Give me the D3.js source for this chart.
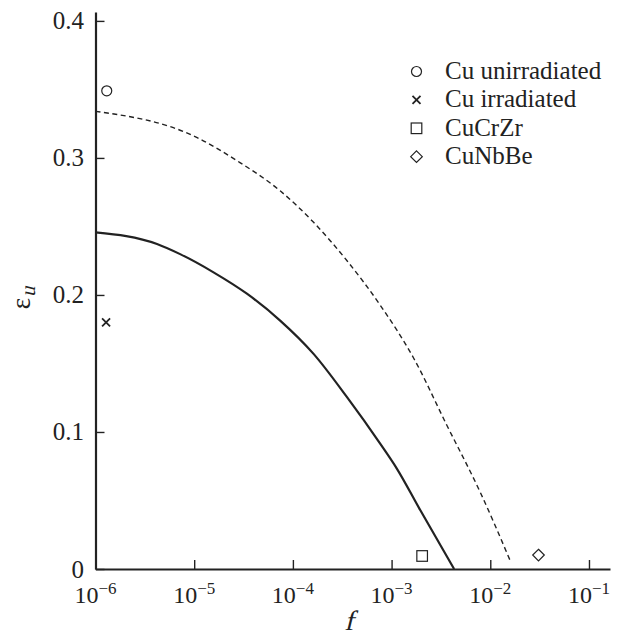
<!DOCTYPE html>
<html>
<head>
<meta charset="utf-8">
<script src="https://cdn.jsdelivr.net/npm/d3@7"></script>
<style>
  body { margin: 0; background: #fff; }
  svg { display: block; }
</style>
</head>
<body>
<svg id="chart" width="619" height="641"></svg>
<script>
// ---- data ----
const xTickExponents = [-6, -5, -4, -3, -2, -1];
const yTicks = [0, 0.1, 0.2, 0.3, 0.4];
const yTickLabels = ["0", "0.1", "0.2", "0.3", "0.4"];

// dashed curve (upper)
const dashedF = [1e-6, 1.06e-5, 2.71e-5, 7.43e-5, 1.62e-4, 3.52e-4, 7.66e-4, 1.67e-3, 3.63e-3, 7.9e-3, 1.58e-2];
const dashedE = [0.334, 0.315, 0.298, 0.276, 0.253, 0.2251, 0.1926, 0.154, 0.1049, 0.0561, 0.0066];

// solid curve (lower)
const solidF = [1e-6, 4.2e-6, 7.2e-6, 1.57e-5, 3.42e-5, 7.43e-5, 1.62e-4, 3.52e-4, 7.66e-4, 1.13e-3, 1.95e-3, 4.3e-3];
const solidE = [0.2457, 0.2372, 0.2298, 0.2165, 0.2009, 0.1813, 0.157, 0.1256, 0.0915, 0.0733, 0.043, 0.0];

// measured points
const pointNames = ["Cu unirradiated", "Cu irradiated", "CuCrZr", "CuNbBe"];
const pointSymbols = ["circle", "cross", "square", "diamond"];
const pointF = [1.3e-6, 1.28e-6, 2.04e-3, 3.08e-2];
const pointE = [0.349, 0.180, 0.0095, 0.0102];

// ---- layout ----
const FONT = "'Liberation Serif', 'Times New Roman', Tinos, serif";
const svg = d3.select("#chart");
const x = d3.scaleLog().domain([1e-6, Math.pow(10, -0.787)]).range([95.5, 610]);
const y = d3.scaleLinear().domain([0, 0.4065]).range([569, 12]);
const ink = "#222";

function txt(sel) {
  return sel.append("text").style("font-family", FONT).attr("fill", ink);
}

// curves
const line = d3.line().x(d => x(d[0])).y(d => y(d[1])).curve(d3.curveMonotoneX);
svg.append("path")
  .attr("d", line(dashedF.map((f, i) => [f, dashedE[i]])))
  .attr("fill", "none").attr("stroke", ink).attr("stroke-width", 1.4)
  .attr("stroke-dasharray", "5,3.5");
svg.append("path")
  .attr("d", line(solidF.map((f, i) => [f, solidE[i]])))
  .attr("fill", "none").attr("stroke", ink).attr("stroke-width", 2.2);

// axes
const xAxis = d3.axisBottom(x).tickValues(xTickExponents.map(e => Math.pow(10, e)))
  .tickSizeInner(-9).tickSizeOuter(0).tickFormat("");
const gx = svg.append("g").attr("transform", `translate(0,${y(0)})`).call(xAxis);
gx.select(".domain").attr("stroke", ink).attr("stroke-width", 2.2);
gx.selectAll(".tick line").attr("stroke", ink).attr("stroke-width", 1.4);

const yAxis = d3.axisLeft(y).tickValues(yTicks).tickSizeInner(-9).tickSizeOuter(0).tickFormat("");
const gy = svg.append("g").attr("transform", `translate(${x(1e-6)},0)`).call(yAxis);
gy.select(".domain").attr("stroke", ink).attr("stroke-width", 2.2);
gy.selectAll(".tick line").attr("stroke", ink).attr("stroke-width", 1.4);

// y tick labels
yTicks.forEach((v, i) => {
  txt(svg)
    .attr("x", 84).attr("y", y(v) + (v === 0 ? 9 : 8))
    .attr("text-anchor", "end").attr("font-size", 25)
    .text(yTickLabels[i]);
});

// x tick labels
xTickExponents.forEach(e => {
  const t = txt(svg)
    .attr("x", x(Math.pow(10, e))).attr("y", 603)
    .attr("text-anchor", "middle").attr("font-size", 24);
  t.append("tspan").text("10");
  t.append("tspan").attr("dy", -9).attr("font-size", 17).text("\u2212" + Math.abs(e));
});

// axis titles (italic emulated with skew, serif regular face)
txt(svg).attr("transform", "translate(349,630) skewX(-14)")
  .attr("text-anchor", "middle").attr("font-size", 28).text("f");
const ylg = svg.append("g").attr("transform", "translate(30,298) rotate(-90)");
txt(ylg).attr("x", 0).attr("y", 0).attr("text-anchor", "end").attr("font-size", 27).text("\u03b5");
txt(ylg).attr("transform", "translate(1,5) skewX(-14)").attr("text-anchor", "start")
  .attr("font-size", 21).text("u");

// marker drawing
function drawSymbol(g, type, cx, cy) {
  if (type === "circle") {
    g.append("circle").attr("cx", cx).attr("cy", cy).attr("r", 5)
      .attr("fill", "none").attr("stroke", ink).attr("stroke-width", 1.2);
  } else if (type === "cross") {
    const s = 4;
    g.append("path").attr("d", `M${cx - s},${cy - s}L${cx + s},${cy + s}M${cx - s},${cy + s}L${cx + s},${cy - s}`)
      .attr("stroke", ink).attr("stroke-width", 1.8).attr("fill", "none");
  } else if (type === "square") {
    g.append("rect").attr("x", cx - 5.3).attr("y", cy - 5.3).attr("width", 10.6).attr("height", 10.6)
      .attr("fill", "none").attr("stroke", ink).attr("stroke-width", 1.2);
  } else if (type === "diamond") {
    const s = 5.8;
    g.append("path").attr("d", `M${cx},${cy - s}L${cx + s},${cy}L${cx},${cy + s}L${cx - s},${cy}Z`)
      .attr("fill", "none").attr("stroke", ink).attr("stroke-width", 1.2);
  }
}

const gp = svg.append("g");
pointF.forEach((f, i) => drawSymbol(gp, pointSymbols[i], x(f), y(pointE[i])));

// legend
const legend = svg.append("g");
pointNames.forEach((name, i) => {
  const cy = 71.5 + i * 28.4;
  drawSymbol(legend, pointSymbols[i], 416.5, cy);
  txt(legend).attr("x", 445).attr("y", cy + 7.5).attr("font-size", 25).text(name);
});
</script>
</body>
</html>
